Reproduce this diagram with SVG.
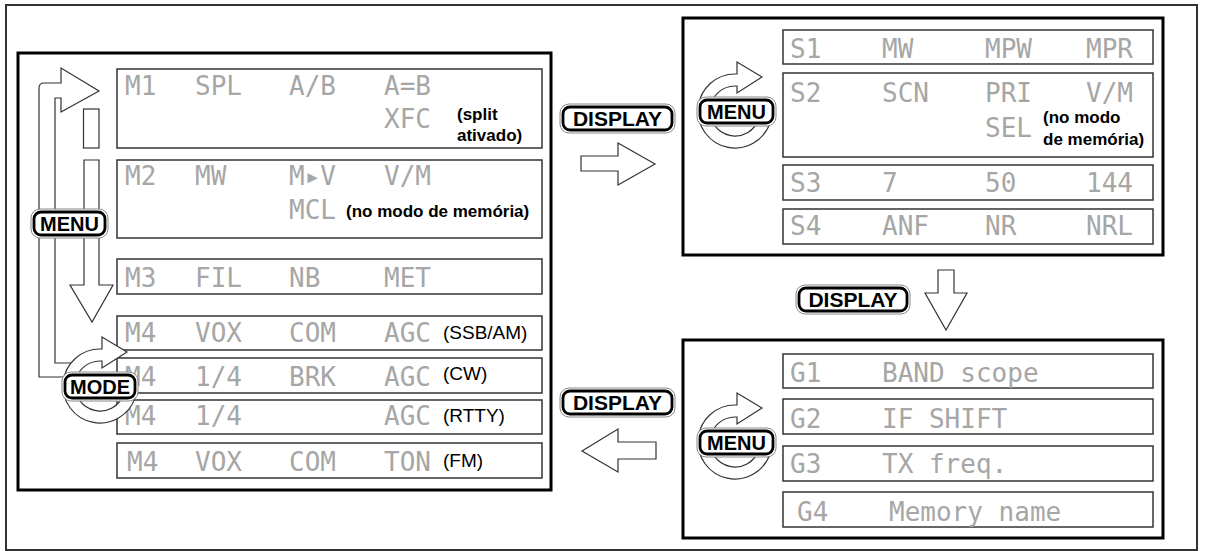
<svg xmlns="http://www.w3.org/2000/svg" width="1206" height="551" viewBox="0 0 1206 551">
<style>
.frame{fill:#fff;stroke:#333;stroke-width:2}
.panel{fill:#fff;stroke:#000;stroke-width:3}
.row{fill:#fff;stroke:#333;stroke-width:1.5}
.lcd{font-family:"DejaVu Sans Mono","Liberation Mono",monospace;font-size:26px;fill:#a6a6a6}
.note{font-family:"Liberation Sans",Arial,sans-serif;font-size:17px;font-weight:bold;fill:#000}
.mode{font-family:"Liberation Sans",Arial,sans-serif;font-size:19px;fill:#000}
.bo{fill:#fff;stroke:#888;stroke-width:1}
.bi{fill:#fff;stroke:#000;stroke-width:2.8}
.bt{font-family:"Liberation Sans",Arial,sans-serif;font-weight:bold;font-size:20px;fill:#000;text-anchor:middle}
.fat{fill:#fff;stroke:#333;stroke-width:1.2;stroke-linejoin:miter}
.loop{fill:none;stroke:#333;stroke-width:1.2}
</style>
<defs>
<path id="cycle" class="fat" d="M35.19,11.43 A37,37 0 1 1 0,-37 L2,-37 L2,-49 L27,-34 L2,-18 L2,-25 L0,-25 A25,25 0 1 0 23.78,7.73 Z"/>
</defs>
<rect class="frame" x="6" y="5" width="1191" height="545"/>

<!-- Left panel: M menus -->
<g id="panel-M">
<rect class="panel" x="18" y="53" width="533" height="437"/>
<g id="row-M1">
<rect class="row" x="117" y="69" width="425" height="79"/>
<text class="lcd" x="125" y="95">M1</text><text class="lcd" x="195" y="95">SPL</text><text class="lcd" x="289" y="95">A/B</text><text class="lcd" x="384" y="95">A=B</text>
<text class="lcd" x="384" y="128">XFC</text>
<text class="note" x="457" y="120">(split</text><text class="note" x="457" y="141">ativado)</text>
</g>
<g id="row-M2">
<rect class="row" x="117" y="160" width="425" height="78"/>
<text class="lcd" x="125" y="185">M2</text><text class="lcd" x="195" y="185">MW</text><text class="lcd" x="289" y="185">M▸V</text><text class="lcd" x="384" y="185">V/M</text>
<text class="lcd" x="289" y="219">MCL</text>
<text class="note" x="346" y="217">(no modo de memória)</text>
</g>
<g id="row-M3">
<rect class="row" x="117" y="259" width="425" height="35"/>
<text class="lcd" x="125" y="287">M3</text><text class="lcd" x="195" y="287">FIL</text><text class="lcd" x="289" y="287">NB</text><text class="lcd" x="384" y="287">MET</text>
</g>
<g id="row-M4-ssb">
<rect class="row" x="117" y="316" width="425" height="34"/>
<text class="lcd" x="125" y="342">M4</text><text class="lcd" x="195" y="342">VOX</text><text class="lcd" x="289" y="342">COM</text><text class="lcd" x="384" y="342">AGC</text>
<text class="mode" x="443" y="339">(SSB/AM)</text>
</g>
<g id="row-M4-cw">
<rect class="row" x="117" y="358" width="425" height="35"/>
<text class="lcd" x="125" y="386">M4</text><text class="lcd" x="195" y="386">1/4</text><text class="lcd" x="289" y="386">BRK</text><text class="lcd" x="384" y="386">AGC</text>
<text class="mode" x="443" y="380">(CW)</text>
</g>
<g id="row-M4-rtty">
<rect class="row" x="117" y="400" width="425" height="34"/>
<text class="lcd" x="125" y="425">M4</text><text class="lcd" x="195" y="425">1/4</text><text class="lcd" x="384" y="425">AGC</text>
<text class="mode" x="443" y="422">(RTTY)</text>
</g>
<g id="row-M4-fm">
<rect class="row" x="117" y="443" width="425" height="35"/>
<text class="lcd" x="127" y="471">M4</text><text class="lcd" x="195" y="471">VOX</text><text class="lcd" x="289" y="471">COM</text><text class="lcd" x="384" y="471">TON</text>
<text class="mode" x="443" y="467">(FM)</text>
</g>
</g>

<!-- Right top panel: S menus -->
<g id="panel-S">
<rect class="panel" x="683" y="18" width="480" height="237"/>
<g id="row-S1">
<rect class="row" x="783" y="30" width="370" height="34"/>
<text class="lcd" x="790" y="58">S1</text><text class="lcd" x="882" y="58">MW</text><text class="lcd" x="985" y="58">MPW</text><text class="lcd" x="1086" y="58">MPR</text>
</g>
<g id="row-S2">
<rect class="row" x="783" y="73" width="370" height="84"/>
<text class="lcd" x="790" y="102">S2</text><text class="lcd" x="882" y="102">SCN</text><text class="lcd" x="985" y="102">PRI</text><text class="lcd" x="1086" y="102">V/M</text>
<text class="lcd" x="985" y="137">SEL</text>
<text class="note" x="1043" y="123">(no modo</text><text class="note" x="1043" y="145">de memória)</text>
</g>
<g id="row-S3">
<rect class="row" x="783" y="165" width="370" height="35"/>
<text class="lcd" x="790" y="192">S3</text><text class="lcd" x="882" y="192">7</text><text class="lcd" x="985" y="192">50</text><text class="lcd" x="1086" y="192">144</text>
</g>
<g id="row-S4">
<rect class="row" x="783" y="209" width="370" height="35"/>
<text class="lcd" x="790" y="235">S4</text><text class="lcd" x="882" y="235">ANF</text><text class="lcd" x="985" y="235">NR</text><text class="lcd" x="1086" y="235">NRL</text>
</g>
</g>

<!-- Right bottom panel: G menus -->
<g id="panel-G">
<rect class="panel" x="683" y="340" width="480" height="198"/>
<g id="row-G1">
<rect class="row" x="783" y="354" width="370" height="34"/>
<text class="lcd" x="790" y="382">G1</text><text class="lcd" x="882" y="382">BAND scope</text>
</g>
<g id="row-G2">
<rect class="row" x="783" y="399" width="370" height="35"/>
<text class="lcd" x="790" y="428">G2</text><text class="lcd" x="882" y="428">IF SHIFT</text>
</g>
<g id="row-G3">
<rect class="row" x="783" y="446" width="370" height="35"/>
<text class="lcd" x="790" y="473">G3</text><text class="lcd" x="882" y="473">TX freq.</text>
</g>
<g id="row-G4">
<rect class="row" x="783" y="492" width="370" height="35"/>
<text class="lcd" x="797" y="521">G4</text><text class="lcd" x="889" y="521">Memory name</text>
</g>
</g>

<!-- Connectors -->
<g id="connectors">
<path class="loop" d="M64.1,377 L39,377 L39,88 Q39,83 44,83 L61,83 L61,68 L99,91 L61,112 L61,98 L55,98 L55,363 L71,363"/>
<rect class="fat" x="83.5" y="109" width="15.5" height="39"/>
<path class="fat" d="M84,160 L99,160 L99,285 L113,285 L92,322 L70,285 L84,285 Z"/>
<path class="fat" d="M581,156 L618,156 L618,143 L655,164 L618,185 L618,171 L581,171 Z"/>
<path class="fat" d="M938,270 L954,270 L954,293 L967,293 L946,330 L925,293 L938,293 Z"/>
<path class="fat" d="M656,442 L618,442 L618,429 L582,451 L618,472 L618,459 L656,459 Z"/>
</g>

<!-- Buttons -->
<g id="btn-menu-left">
<rect class="bo" x="31" y="209" width="77" height="29" rx="9"/>
<rect class="bi" x="34" y="212" width="71" height="23" rx="7"/>
<text class="bt" x="69.5" y="231">MENU</text>
</g>
<g id="btn-mode">
<use href="#cycle" transform="translate(100,386)"/>
<rect class="bo" x="62" y="372" width="76" height="29" rx="9"/>
<rect class="bi" x="65" y="375" width="70" height="23" rx="7"/>
<text class="bt" x="100" y="394">MODE</text>
</g>
<g id="btn-menu-s">
<use href="#cycle" transform="translate(735,111)"/>
<rect class="bo" x="697" y="97" width="79" height="29" rx="9"/>
<rect class="bi" x="700" y="100" width="73" height="23" rx="7"/>
<text class="bt" x="736.5" y="119">MENU</text>
</g>
<g id="btn-menu-g">
<use href="#cycle" transform="translate(735,442)"/>
<rect class="bo" x="697" y="428" width="79" height="29" rx="9"/>
<rect class="bi" x="700" y="431" width="73" height="23" rx="7"/>
<text class="bt" x="736.5" y="450">MENU</text>
</g>
<g id="btn-display-1">
<rect class="bo" x="560" y="104" width="115" height="29" rx="9"/>
<rect class="bi" x="563" y="107" width="109" height="23" rx="7"/>
<text class="bt" x="617.5" y="126" style="font-size:21px">DISPLAY</text>
</g>
<g id="btn-display-2">
<rect class="bo" x="796" y="285" width="114" height="29" rx="9"/>
<rect class="bi" x="799" y="288" width="108" height="23" rx="7"/>
<text class="bt" x="853" y="307" style="font-size:21px">DISPLAY</text>
</g>
<g id="btn-display-3">
<rect class="bo" x="560" y="388" width="115" height="29" rx="9"/>
<rect class="bi" x="563" y="391" width="109" height="23" rx="7"/>
<text class="bt" x="617.5" y="410" style="font-size:21px">DISPLAY</text>
</g>
</svg>
